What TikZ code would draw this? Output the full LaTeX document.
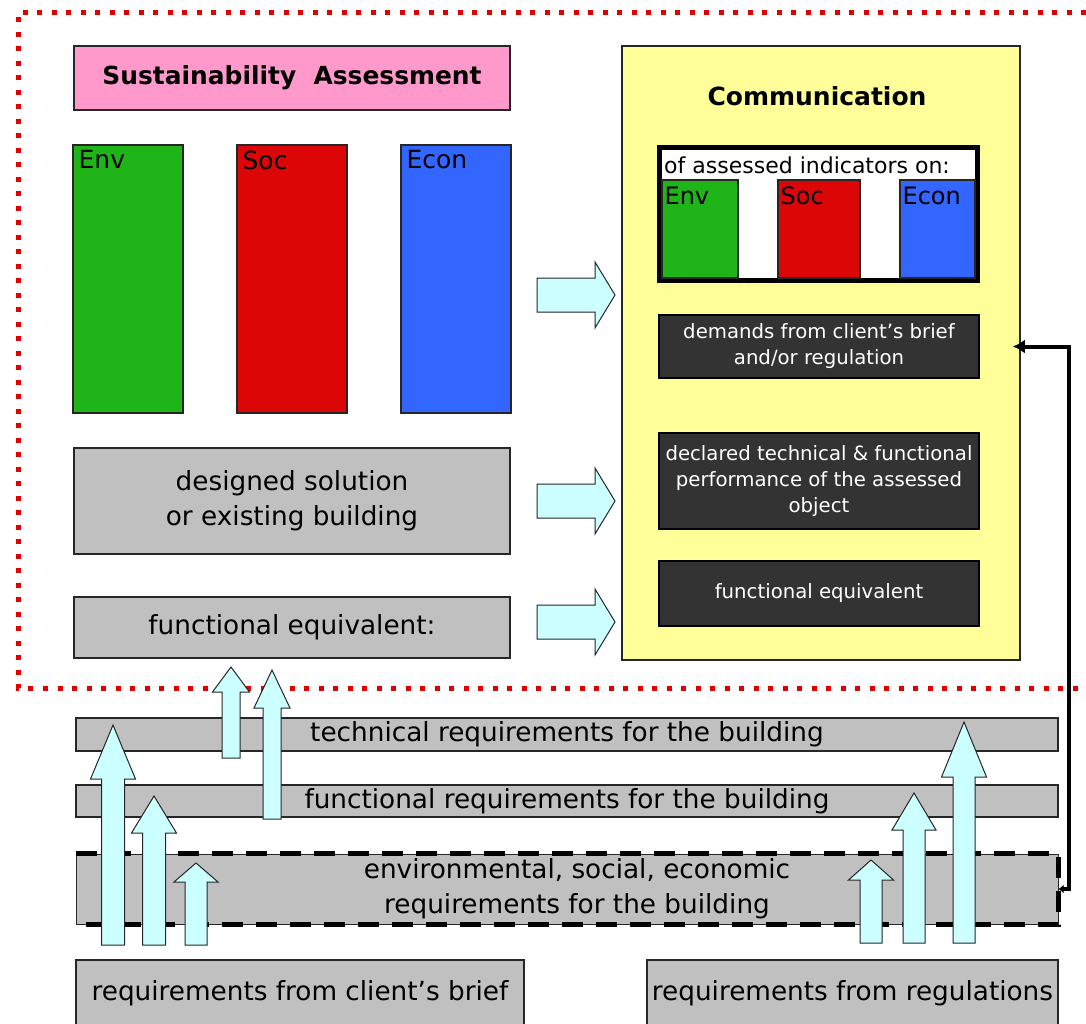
\documentclass[tikz,border=0pt]{standalone}
\usepackage{fontspec}
\setmainfont{DejaVu Sans}
\usetikzlibrary{positioning, arrows.meta}
\definecolor{pinkbox}{HTML}{FF99CC}
\definecolor{yellowbox}{HTML}{FFFF99}
\definecolor{greybox}{HTML}{C0C0C0}
\definecolor{darkbox}{HTML}{333333}
\definecolor{envgreen}{HTML}{1FB418}
\definecolor{socred}{HTML}{DD0606}
\definecolor{econblue}{HTML}{3366FF}
\definecolor{arrowcyan}{HTML}{CCFFFF}
\definecolor{dotred}{HTML}{E00000}

\begin{document}
\begin{tikzpicture}[x=1pt, y=-1pt, on grid,
  plainbox/.style={draw=black!85, line width=1.5pt, inner sep=0pt, align=center},
  greyrect/.style={plainbox, fill=greybox, font=\fontsize{26.3}{35}\selectfont},
  darkrect/.style={plainbox, draw=black, fill=darkbox, text=white, minimum width=320pt, font=\fontsize{19.7}{26}\selectfont},
  pillar/.style={plainbox, line width=1.2pt, minimum width=110pt, minimum height=268pt},
  slim/.style={plainbox, line width=1.2pt, minimum height=98pt},
  tag/.style={anchor=north west, inner xsep=6pt, inner ysep=6pt, font=\fontsize{25}{25}\selectfont},
  smalltag/.style={anchor=north west, inner xsep=3pt, inner ysep=7pt, font=\fontsize{24}{24}\selectfont},
  pushed/.style={draw=black!85, line width=1pt, fill=arrowcyan}]
  \useasboundingbox (0,0) rectangle (1086,1023);

  % dotted frame round the assessment
  \draw[dotred, line width=5pt, dash pattern=on 5pt off 9.5pt] (1086,12) -- (18,12) -- (18,688) -- (1086,688);

  % assessment side
  \node[plainbox, fill=pinkbox, minimum width=436pt, minimum height=64pt, font=\bfseries\fontsize{24.9}{25}\selectfont] (sa) at (292,78) {Sustainability~~Assessment};
  \node[pillar, fill=envgreen, label={[tag]north west:Env}] (env) at (128,279) {};
  \node[pillar, fill=socred, label={[tag]north west:Soc}] (soc) [right=164pt of env] {};
  \node[pillar, fill=econblue, label={[tag]north west:Econ}] (econ) [right=164pt of soc] {};
  \node[greyrect, minimum width=436pt, minimum height=106pt] (design) at (292,501) {designed solution\\or existing building};
  \node[greyrect, minimum width=436pt, minimum height=61pt] (feq) at (292,627.5) {functional equivalent:};

  % communication side
  \node[plainbox, fill=yellowbox, minimum width=398pt, minimum height=614pt] (comm) at (821,353) {};
  \node[font=\bfseries\fontsize{25}{25}\selectfont] (commtitle) at (817,96) {Communication};
  \node[draw, line width=5pt, fill=white, minimum width=318pt, minimum height=133pt] (ind) at (818.5,214) {};
  \node[slim, fill=envgreen, minimum width=76pt, label={[smalltag]north west:Env}] (cenv) at (700,229) {};
  \node[slim, fill=socred, minimum width=82pt, label={[smalltag]north west:Soc}] (csoc) [right=119pt of cenv] {};
  \node[slim, fill=econblue, minimum width=75pt, label={[smalltag]north west:Econ}] (cecon) [right=118.5pt of csoc] {};
  \node[anchor=base west, inner sep=0pt, font=\fontsize{22}{22}\selectfont] (indtitle) at (664,173) {of assessed indicators on:};
  \node[darkrect, minimum height=63pt] (demands) at (819,346.5) {demands from client's brief\\and/or regulation};
  \node[darkrect, minimum height=96pt] (declared) at (819,481) {declared technical \& functional\\performance of the assessed\\object};
  \node[darkrect, minimum height=65pt] (fequiv) at (819,593.5) {functional equivalent};

  % requirements
  \node[greyrect, minimum width=982pt, minimum height=33pt] (techreq) at (567,734.5) {technical requirements for the building};
  \node[greyrect, minimum width=982pt, minimum height=32pt] (funcreq) at (567,801) {functional requirements for the building};
  \node[greyrect, line width=1pt, minimum width=982pt, minimum height=70pt] (envreq) at (567,889) {\hspace*{20pt}environmental, social, economic\\\hspace*{20pt}requirements for the building};
  \draw[line width=5pt, dash pattern=on 21pt off 13pt] (envreq.north west) -- (envreq.north east) -- (envreq.south east) -- (envreq.south west);
  \node[greyrect, minimum width=448pt, minimum height=66pt] (brief) at (300,993) {requirements from client's brief};
  \node[greyrect, minimum width=411pt, minimum height=66pt] (regs) at (852.5,993) {requirements from regulations};

  % block arrows
  \foreach \x/\b/\h/\t/\w/\hw in {113/945/779/725/11.5/22.5, 154/945/833/796/11.5/22.5, 196/945/882/863/11/22,
      231/758/692/667/9/18.5, 272/819/708/670/9/18,
      871/943/880/860/11/22.5, 914/943/830/793/11/22, 964/943/777/722/11/22.5}
    \draw[pushed] (\x-\w,\b) -- (\x-\w,\h) -- (\x-\hw,\h) -- (\x,\t) -- (\x+\hw,\h) -- (\x+\w,\h) -- (\x+\w,\b) -- cycle;
  \foreach \y in {295,501,622}
    \draw[pushed] (537,\y-17) -- (595,\y-17) -- (595,\y-33) -- (615,\y) -- (595,\y+33) -- (595,\y+17) -- (537,\y+17) -- cycle;

  \draw[line width=4pt, {Latex[length=5pt,width=9pt]}-{Latex[length=12pt,width=14pt]}, shorten >=-8pt]
    (envreq.east) -- ++(10,0) |- (comm.east |- demands.east);
\end{tikzpicture}
\end{document}
